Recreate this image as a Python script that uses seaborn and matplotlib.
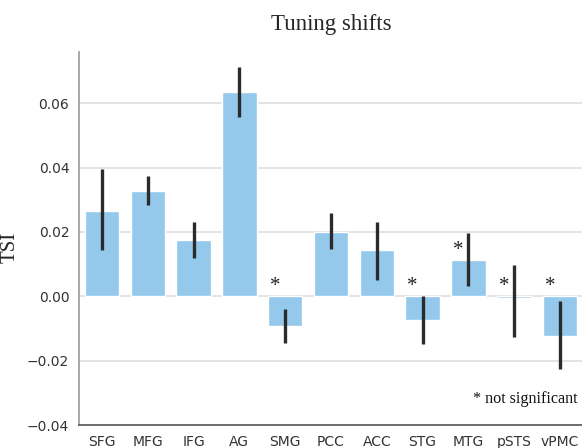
import numpy as np
import pandas as pd
import seaborn as sns
import matplotlib.pyplot as plt

regions = ['SFG', 'MFG', 'IFG', 'AG', 'SMG', 'PCC', 'ACC', 'STG', 'MTG', 'pSTS', 'vPMC']
tsi = [0.0265, 0.0328, 0.0174, 0.0636, -0.0092, 0.0200, 0.0143, -0.0075, 0.0113, -0.0005, -0.0124]
err_low = [0.0144, 0.0283, 0.0118, 0.0556, -0.0146, 0.0146, 0.0051, -0.0148, 0.0031, -0.0127, -0.0226]
err_high = [0.0397, 0.0374, 0.0231, 0.0712, -0.0040, 0.0259, 0.0231, 0.0000, 0.0198, 0.0098, -0.0016]
not_significant = ['SMG', 'STG', 'MTG', 'pSTS', 'vPMC']

df = pd.DataFrame({'region': regions, 'tsi': tsi, 'lo': err_low, 'hi': err_high})

sns.set_style("whitegrid")
plt.rcParams['font.family'] = ['DejaVu Sans']
serif = ['Liberation Serif', 'DejaVu Serif']

fig = plt.figure(figsize=(5.82, 4.48), dpi=100)
ax = fig.add_axes([0.1357, 0.0513, 0.866, 0.833])

sns.barplot(data=df, x='region', y='tsi', color='#94C9EC', saturation=1,
            width=0.75, errorbar=None, ax=ax, zorder=2)

xs = np.arange(len(regions))
ax.errorbar(xs, df.tsi, yerr=[df.tsi - df.lo, df.hi - df.tsi], fmt='none',
            ecolor='#2b2b2b', elinewidth=2.4, capsize=0, zorder=3)

for i, r in enumerate(regions):
    if r in not_significant:
        y = max(tsi[i], 0) + 0.003
        ax.text(i - 0.22, y, '*', ha='center', va='center', fontsize=15,
                family=serif, color='#222222')

ax.text(8.1, -0.032, '* not significant', ha='left', va='center',
        fontsize=11.6, family=serif, color='#111111', clip_on=False)

ax.set_xlim(-0.5, 10.5)
ax.set_ylim(-0.04, 0.076)
ax.set_yticks([-0.04, -0.02, 0.0, 0.02, 0.04, 0.06])
ax.set_yticklabels(['\u22120.04', '\u22120.02', '0.00', '0.02', '0.04', '0.06'])
ax.set_xlabel('')
ax.set_ylabel('TSI', family=serif, fontsize=15)
ax.yaxis.set_label_coords(-0.117, 0.477)
ax.set_title('Tuning shifts', family=serif, fontsize=16.5, pad=16)

ax.grid(axis='y', color='#e4e4e4', linewidth=1.4, zorder=0)
ax.grid(axis='x', visible=False)
ax.set_axisbelow(True)
ax.tick_params(axis='both', length=0, labelsize=10, colors='#333333', pad=7)

for side in ['top', 'right']:
    ax.spines[side].set_visible(False)
ax.spines['left'].set_color('#999999')
ax.spines['bottom'].set_color('#555555')
ax.spines['left'].set_linewidth(1.2)
ax.spines['bottom'].set_linewidth(1.2)

fig.savefig('out.png', dpi=100)
